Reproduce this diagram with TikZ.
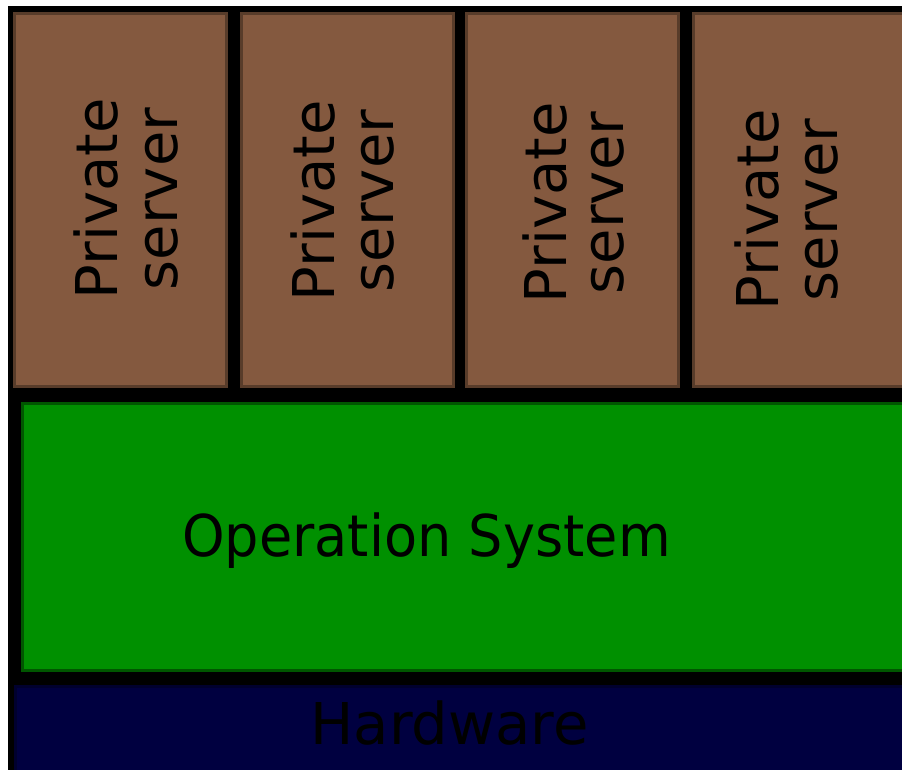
\documentclass[tikz,border=0pt]{standalone}
\usepackage{fontspec}
\newfontfamily\lab{DejaVu Sans}
\newfontfamily\labn[FakeStretch=0.94]{DejaVu Sans}
\definecolor{srvfill}{RGB}{132,89,63}
\definecolor{srvline}{RGB}{88,60,42}
\definecolor{osfill}{RGB}{0,144,0}
\definecolor{osline}{RGB}{0,86,0}
\definecolor{hwfill}{RGB}{0,0,64}
\definecolor{hwline}{RGB}{0,0,46}
\tikzset{
  layer/.style={draw, line width=3pt, inner sep=0pt, outer sep=0pt},
  srvbox/.style={layer, draw=srvline, fill=srvfill, minimum width=212pt, minimum height=373pt},
  lbl/.style={inner sep=0pt, outer sep=0pt, anchor=base, text=black, font=\lab\fontsize{57.6}{60}\selectfont},
  vlbl/.style={lbl, rotate=90}
}
\begin{document}
\begin{tikzpicture}[x=1pt,y=-1pt]
\useasboundingbox (0,0) rectangle (902,769);
\clip (0,0) rectangle (902,769);
\fill[black] (8,6) rectangle (920,790);
% private servers
\node[srvbox] (s1) at (120.5,200) {};
\node[srvbox] (s2) at (347.5,200) {};
\node[srvbox] (s3) at (572.5,200) {};
\node[srvbox] (s4) at (799.5,200) {};
% operation system
\node[layer, draw=osline, fill=osfill, minimum width=886pt, minimum height=267pt] (os) at (465.5,537) {};
% hardware
\node[layer, draw=hwline, fill=hwfill, minimum width=893pt, minimum height=92pt] (hw) at (462,732.5) {};
% labels
\node[vlbl] (s1a) at (117,199) {Private};
\node[vlbl] (s1b) at (177,199) {server};
\node[vlbl] (s2a) at (334,201) {Private};
\node[vlbl] (s2b) at (393,201) {server};
\node[vlbl] (s3a) at (566,203) {Private};
\node[vlbl] (s3b) at (623,203) {server};
\node[vlbl] (s4a) at (778,210) {Private};
\node[vlbl] (s4b) at (837,210) {server};
\node[lbl, font=\labn\fontsize{57.6}{60}\selectfont] (ost) at (426.5,556) {Operation System};
\node[lbl] (hwt) at (449.5,744) {Hardware};
\end{tikzpicture}
\end{document}
